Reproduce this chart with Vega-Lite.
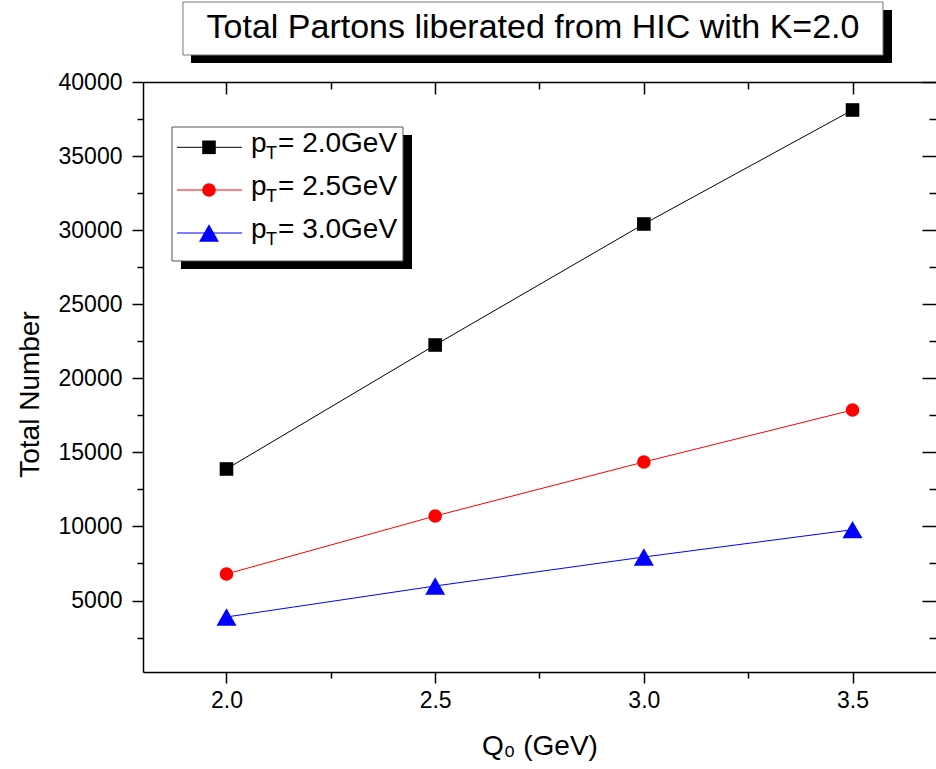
{
  "$schema": "https://vega.github.io/schema/vega-lite/v6.json",
  "width": 793,
  "height": 590,
  "autosize": {"type": "none"},
  "padding": {"left": 143, "top": 82, "right": 0, "bottom": 97},
  "background": "white",
  "config": {
    "view": {"stroke": null},
    "font": "Liberation Sans",
    "axis": {
      "grid": false,
      "domainColor": "black",
      "tickColor": "black",
      "labelColor": "black",
      "titleColor": "black",
      "domainWidth": 1.5,
      "tickWidth": 1.5,
      "labelFont": "Liberation Sans",
      "titleFont": "Liberation Sans",
      "titleFontWeight": "normal",
      "labelFontSize": 23,
      "titleFontSize": 28,
      "labelFlush": false,
      "labelOverlap": false
    }
  },
  "datasets": {
    "main": [
      {"q0": 2.0, "series": "2.0", "n": 13878},
      {"q0": 2.5, "series": "2.0", "n": 22247},
      {"q0": 3.0, "series": "2.0", "n": 30415},
      {"q0": 3.5, "series": "2.0", "n": 38110},
      {"q0": 2.0, "series": "2.5", "n": 6790},
      {"q0": 2.5, "series": "2.5", "n": 10705},
      {"q0": 3.0, "series": "2.5", "n": 14350},
      {"q0": 3.5, "series": "2.5", "n": 17860},
      {"q0": 2.0, "series": "3.0", "n": 3888},
      {"q0": 2.5, "series": "3.0", "n": 5980},
      {"q0": 3.0, "series": "3.0", "n": 7937},
      {"q0": 3.5, "series": "3.0", "n": 9780}
    ]
  },
  "resolve": {"axis": {"x": "independent", "y": "independent"}},
  "layer": [
    {
      "data": {"name": "main"},
      "mark": {"type": "line", "strokeWidth": 1},
      "encoding": {
        "x": {
          "field": "q0", "type": "quantitative",
          "scale": {"domain": [1.8, 3.7], "nice": false, "zero": false},
          "axis": {
            "orient": "bottom",
            "values": [2, 2.25, 2.5, 2.75, 3, 3.25, 3.5],
            "format": ".1f",
            "labelExpr": "abs(datum.value*2 - round(datum.value*2)) < 0.001 ? datum.label : ''",
            "tickSize": {"condition": {"test": "abs(datum.value*2 - round(datum.value*2)) < 0.001", "value": 11}, "value": 6},
            "labelPadding": 6,
            "title": "Q₀ (GeV)",
            "titlePadding": 20
          }
        },
        "y": {
          "field": "n", "type": "quantitative",
          "scale": {"domain": [175, 40000], "nice": false, "zero": false},
          "axis": {
            "orient": "left",
            "values": [2500, 5000, 7500, 10000, 12500, 15000, 17500, 20000, 22500, 25000, 27500, 30000, 32500, 35000, 37500, 40000],
            "format": "d",
            "labelExpr": "datum.value % 5000 === 0 ? datum.label : ''",
            "tickSize": {"condition": {"test": "datum.value % 5000 === 0", "value": 11}, "value": 6},
            "labelPadding": 10,
            "title": "Total Number",
            "titlePadding": 14,
            "titleY": 312
          }
        },
        "color": {
          "field": "series", "type": "nominal",
          "scale": {"domain": ["2.0", "2.5", "3.0"], "range": ["#000000", "#ff0000", "#0000ff"]},
          "legend": null
        }
      }
    },
    {
      "data": {"name": "main"},
      "mark": {"type": "point", "filled": true, "opacity": 1},
      "encoding": {
        "x": {"field": "q0", "type": "quantitative", "axis": null},
        "y": {"field": "n", "type": "quantitative", "axis": null},
        "color": {"field": "series", "type": "nominal", "legend": null},
        "shape": {
          "field": "series", "type": "nominal",
          "scale": {"domain": ["2.0", "2.5", "3.0"], "range": ["square", "circle", "triangle-up"]},
          "legend": null
        },
        "size": {
          "condition": {"test": "datum.series === '3.0'", "value": 400},
          "value": 185
        }
      }
    },
    {
      "data": {"name": "main"},
      "mark": {"type": "point", "opacity": 0},
      "encoding": {
        "x": {
          "field": "q0", "type": "quantitative",
          "axis": {
            "orient": "top",
            "values": [2, 2.25, 2.5, 2.75, 3, 3.25, 3.5],
            "labels": false,
            "title": null,
            "tickSize": {"condition": {"test": "abs(datum.value*2 - round(datum.value*2)) < 0.001", "value": -12}, "value": -7}
          }
        },
        "y": {
          "field": "n", "type": "quantitative",
          "axis": {
            "orient": "right",
            "values": [2500, 5000, 7500, 10000, 12500, 15000, 17500, 20000, 22500, 25000, 27500, 30000, 32500, 35000, 37500, 40000],
            "labels": false,
            "title": null,
            "domain": false,
            "tickSize": {"condition": {"test": "datum.value % 5000 === 0", "value": -14}, "value": -7}
          }
        }
      }
    },
    {
      "data": {"values": [{}]},
      "mark": {"type": "rect", "fill": "#000000"},
      "encoding": {
        "x": {"datum": 1.9150, "type": "quantitative", "axis": null},
        "x2": {"datum": 3.5946},
        "y": {"datum": 44860, "type": "quantitative", "axis": null},
        "y2": {"datum": 41282}
      }
    },
    {
      "data": {"values": [{}]},
      "mark": {"type": "rect", "fill": "#ffffff", "stroke": "#777777", "strokeWidth": 1},
      "encoding": {
        "x": {"datum": 1.8958, "type": "quantitative", "axis": null},
        "x2": {"datum": 3.5730},
        "y": {"datum": 45400, "type": "quantitative", "axis": null},
        "y2": {"datum": 41822}
      }
    },
    {
      "data": {"values": [{}]},
      "mark": {"type": "text", "text": "Total Partons liberated from HIC with K=2.0", "fontSize": 34, "align": "center", "baseline": "alphabetic", "color": "#000000", "font": "Liberation Sans"},
      "encoding": {
        "x": {"datum": 2.7344, "type": "quantitative", "axis": null},
        "y": {"datum": 42970, "type": "quantitative", "axis": null}
      }
    },
    {
      "data": {"values": [{}]},
      "mark": {"type": "rect", "fill": "#000000"},
      "encoding": {
        "x": {"datum": 1.8910, "type": "quantitative", "axis": null},
        "x2": {"datum": 2.4445},
        "y": {"datum": 36422, "type": "quantitative", "axis": null},
        "y2": {"datum": 27378}
      }
    },
    {
      "data": {"values": [{}]},
      "mark": {"type": "rect", "fill": "#ffffff", "stroke": "#555555", "strokeWidth": 1},
      "encoding": {
        "x": {"datum": 1.8695, "type": "quantitative", "axis": null},
        "x2": {"datum": 2.4229},
        "y": {"datum": 36962, "type": "quantitative", "axis": null},
        "y2": {"datum": 27918}
      }
    },
    {
      "data": {"values": [{}]},
      "mark": {"type": "rule", "color": "#000000", "strokeWidth": 1},
      "encoding": {
        "x": {"datum": 1.8815, "type": "quantitative", "axis": null},
        "x2": {"datum": 2.0372},
        "y": {"datum": 35592, "type": "quantitative", "axis": null}
      }
    },
    {
      "data": {"values": [{}]},
      "mark": {"type": "rule", "color": "#ff0000", "strokeWidth": 1},
      "encoding": {
        "x": {"datum": 1.8815, "type": "quantitative", "axis": null},
        "x2": {"datum": 2.0372},
        "y": {"datum": 32710, "type": "quantitative", "axis": null}
      }
    },
    {
      "data": {"values": [{}]},
      "mark": {"type": "rule", "color": "#0000ff", "strokeWidth": 1},
      "encoding": {
        "x": {"datum": 1.8815, "type": "quantitative", "axis": null},
        "x2": {"datum": 2.0372},
        "y": {"datum": 29807, "type": "quantitative", "axis": null}
      }
    },
    {
      "data": {"values": [{}]},
      "mark": {"type": "point", "shape": "square", "filled": true, "color": "#000000", "opacity": 1, "size": 185},
      "encoding": {
        "x": {"datum": 1.9581, "type": "quantitative", "axis": null},
        "y": {"datum": 35592, "type": "quantitative", "axis": null}
      }
    },
    {
      "data": {"values": [{}]},
      "mark": {"type": "point", "shape": "circle", "filled": true, "color": "#ff0000", "opacity": 1, "size": 185},
      "encoding": {
        "x": {"datum": 1.9581, "type": "quantitative", "axis": null},
        "y": {"datum": 32710, "type": "quantitative", "axis": null}
      }
    },
    {
      "data": {"values": [{}]},
      "mark": {"type": "point", "shape": "triangle-up", "filled": true, "color": "#0000ff", "opacity": 1, "size": 400},
      "encoding": {
        "x": {"datum": 1.9581, "type": "quantitative", "axis": null},
        "y": {"datum": 29807, "type": "quantitative", "axis": null}
      }
    },
    {
      "data": {"values": [{}]},
      "mark": {"type": "text", "text": "p", "fontSize": 28, "align": "left", "baseline": "alphabetic", "color": "#000000"},
      "encoding": {
        "x": {"datum": 2.0588, "type": "quantitative", "axis": null},
        "y": {"datum": 35275, "type": "quantitative", "axis": null}
      }
    },
    {
      "data": {"values": [{}]},
      "mark": {"type": "text", "text": "T", "fontSize": 18, "align": "left", "baseline": "alphabetic", "dx": 15, "dy": 7, "color": "#000000"},
      "encoding": {
        "x": {"datum": 2.0588, "type": "quantitative", "axis": null},
        "y": {"datum": 35275, "type": "quantitative", "axis": null}
      }
    },
    {
      "data": {"values": [{}]},
      "mark": {"type": "text", "text": "= 2.0GeV", "fontSize": 28, "align": "left", "baseline": "alphabetic", "dx": 27, "color": "#000000"},
      "encoding": {
        "x": {"datum": 2.0588, "type": "quantitative", "axis": null},
        "y": {"datum": 35275, "type": "quantitative", "axis": null}
      }
    },
    {
      "data": {"values": [{}]},
      "mark": {"type": "text", "text": "p", "fontSize": 28, "align": "left", "baseline": "alphabetic", "color": "#000000"},
      "encoding": {
        "x": {"datum": 2.0588, "type": "quantitative", "axis": null},
        "y": {"datum": 32373, "type": "quantitative", "axis": null}
      }
    },
    {
      "data": {"values": [{}]},
      "mark": {"type": "text", "text": "T", "fontSize": 18, "align": "left", "baseline": "alphabetic", "dx": 15, "dy": 7, "color": "#000000"},
      "encoding": {
        "x": {"datum": 2.0588, "type": "quantitative", "axis": null},
        "y": {"datum": 32373, "type": "quantitative", "axis": null}
      }
    },
    {
      "data": {"values": [{}]},
      "mark": {"type": "text", "text": "= 2.5GeV", "fontSize": 28, "align": "left", "baseline": "alphabetic", "dx": 27, "color": "#000000"},
      "encoding": {
        "x": {"datum": 2.0588, "type": "quantitative", "axis": null},
        "y": {"datum": 32373, "type": "quantitative", "axis": null}
      }
    },
    {
      "data": {"values": [{}]},
      "mark": {"type": "text", "text": "p", "fontSize": 28, "align": "left", "baseline": "alphabetic", "color": "#000000"},
      "encoding": {
        "x": {"datum": 2.0588, "type": "quantitative", "axis": null},
        "y": {"datum": 29470, "type": "quantitative", "axis": null}
      }
    },
    {
      "data": {"values": [{}]},
      "mark": {"type": "text", "text": "T", "fontSize": 18, "align": "left", "baseline": "alphabetic", "dx": 15, "dy": 7, "color": "#000000"},
      "encoding": {
        "x": {"datum": 2.0588, "type": "quantitative", "axis": null},
        "y": {"datum": 29470, "type": "quantitative", "axis": null}
      }
    },
    {
      "data": {"values": [{}]},
      "mark": {"type": "text", "text": "= 3.0GeV", "fontSize": 28, "align": "left", "baseline": "alphabetic", "dx": 27, "color": "#000000"},
      "encoding": {
        "x": {"datum": 2.0588, "type": "quantitative", "axis": null},
        "y": {"datum": 29470, "type": "quantitative", "axis": null}
      }
    }
  ]
}
